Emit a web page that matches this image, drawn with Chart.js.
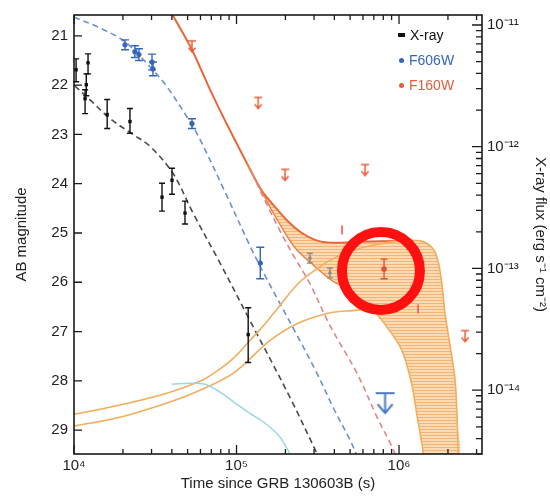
<!DOCTYPE html>
<html>
<head>
<meta charset="utf-8">
<script src="https://cdn.jsdelivr.net/npm/chart.js@4.4.1/dist/chart.umd.min.js"></script>
<style>
  body { margin: 0; background: #fff; }
  #wrap { position: relative; width: 550px; height: 496px; }
  .leg { position: absolute; left: 398px; font: 14px "Liberation Sans", Arial, sans-serif; white-space: nowrap; line-height: 16px; }
  .leg i { display: inline-block; margin-right: 5px; vertical-align: middle; position: relative; top: -1px; }
</style>
</head>
<body>
<div id="wrap">
  <canvas id="c" width="550" height="496"></canvas>
  <div class="leg" style="top:27px;color:#111"><i style="width:7px;height:4px;background:#111"></i>X-ray</div>
  <div class="leg" style="top:52px;color:#3566b8"><i style="width:5px;height:5px;border-radius:50%;background:#3566b8;margin-left:1px"></i>F606W</div>
  <div class="leg" style="top:77px;color:#e0603c"><i style="width:5px;height:5px;border-radius:50%;background:#e0603c;margin-left:1px"></i>F160W</div>
</div>
<script>
// axes
const xTickVals = [1e4, 1e5, 1e6];
const xTickLabels = ['10⁴', '10⁵', '10⁶'];
const magTicks = [21, 22, 23, 24, 25, 26, 27, 28, 29];
const fluxTickVals = [1e-11, 1e-12, 1e-13, 1e-14];
const fluxTickLabels = ['10⁻¹¹', '10⁻¹²', '10⁻¹³', '10⁻¹⁴'];

// X-ray data (right axis, erg s^-1 cm^-2)
const xrayTime = [1.03e4, 1.22e4, 1.19e4, 1.17e4, 1.60e4, 2.21e4, 3.48e4, 4.01e4, 4.82e4, 1.18e5];
const xrayFlux = [4.29e-12, 4.89e-12, 3.23e-12, 2.48e-12, 1.84e-12, 1.61e-12, 3.85e-13, 5.30e-13, 2.85e-13, 2.86e-14];
const xrayHi = [5.27e-12, 5.79e-12, 3.97e-12, 2.94e-12, 2.44e-12, 2.06e-12, 5.01e-13, 6.65e-13, 3.57e-13, 4.76e-14];
const xrayLo = [3.42e-12, 3.97e-12, 2.62e-12, 1.87e-12, 1.41e-12, 1.29e-12, 2.96e-13, 4.07e-13, 2.32e-13, 1.69e-14];
const xrayModelT = [1.01e4, 1.25e4, 1.67e4, 2.31e4, 2.94e4, 4.06e4, 5.40e4, 7.91e4, 1.21e5, 2.13e5, 3.18e5];
const xrayModelF = [3.17e-12, 2.44e-12, 1.70e-12, 1.26e-12, 1.005e-12, 6.05e-13, 2.85e-13, 1.11e-13, 3.73e-14, 8.75e-15, 2.88e-15];

// F606W (AB mag)
const f606T = [2.06e4, 2.37e4, 2.51e4, 3.02e4, 3.06e4, 5.32e4, 1.40e5];
const f606M = [21.18, 21.32, 21.38, 21.53, 21.67, 22.78, 25.61];
const f606Err = [0.10, 0.12, 0.12, 0.16, 0.14, 0.10, 0.32];
const f606LimT = [8.21e5];
const f606LimM = [28.25];
const f606ModelT = [1.0e4, 1.445e4, 2.06e4, 2.94e4, 3.73e4, 5.25e4, 5.96e4, 8.45e4, 1.21e5, 1.50e5, 1.85e5, 2.36e5, 3.13e5, 3.93e5, 4.99e5, 5.54e5];
const f606ModelM = [20.62, 20.84, 21.12, 21.63, 22.03, 22.78, 23.10, 24.15, 25.26, 25.87, 26.43, 27.08, 27.85, 28.54, 29.20, 29.53];

// F160W (AB mag)
const f160T = [8.09e5];
const f160M = [25.73];
const f160Err = [0.20];
const f160LimT = [5.32e4, 1.36e5, 1.99e5, 6.18e5, 2.55e6];
const f160LimM = [21.10, 22.25, 23.71, 23.61, 26.98];
const f160ModelT = [1.245e5, 1.50e5, 1.853e5, 2.29e5, 2.83e5, 3.76e5, 5.52e5, 7.33e5, 8.81e5, 9.6e5];
const f160ModelM = [23.79, 24.35, 24.96, 25.51, 26.03, 26.88, 27.85, 28.74, 29.26, 29.53];
const grayT = [2.83e5, 3.76e5];
const grayM = [25.51, 25.81];
const grayErr = [0.10, 0.10];

// afterglow + kilonova totals, kilonova range
const totalUpperT = [3.78e4, 5.32e4, 6.87e4, 8.87e4, 1.16e5, 1.435e5, 1.726e5, 2.07e5, 2.53e5, 3.18e5, 4.04e5, 5.75e5, 1.01e6];
const totalUpperM = [20.41, 21.28, 22.09, 22.84, 23.59, 24.15, 24.47, 24.76, 25.00, 25.16, 25.20, 25.18, 25.16];
const totalLowerT = [1.16e5, 1.50e5, 1.80e5, 2.29e5, 2.92e5, 3.87e5, 4.66e5, 5.75e5, 6.82e5];
const totalLowerM = [23.59, 24.29, 24.76, 25.30, 25.63, 25.97, 26.11, 26.37, 26.58];
const knUpperT = [1.0e4, 1.92e4, 3.73e4, 5.96e4, 7.38e4, 9.51e4, 1.21e5, 1.50e5, 1.80e5, 2.39e5, 3.18e5, 3.87e5, 5.14e5, 7.11e5, 1.01e6, 1.35e6, 1.60e6, 1.74e6, 1.84e6, 1.92e6, 2.06e6, 2.21e6, 2.28e6, 2.31e6];
const knUpperM = [28.68, 28.49, 28.25, 28.01, 27.83, 27.55, 27.18, 26.84, 26.52, 26.03, 25.71, 25.53, 25.36, 25.24, 25.16, 25.16, 25.30, 25.57, 26.07, 26.64, 27.28, 27.97, 28.80, 29.61];
const knLowerT = [1.0e4, 1.92e4, 3.73e4, 5.96e4, 9.51e4, 1.61e5, 2.36e5, 3.76e5, 4.99e5, 6.82e5, 8.55e5, 1.04e6, 1.19e6, 1.29e6, 1.39e6, 1.43e6];
const knLowerM = [28.92, 28.74, 28.45, 28.19, 27.85, 27.18, 26.84, 26.62, 26.58, 26.58, 26.94, 27.38, 28.03, 28.70, 29.32, 29.61];
const cyanT = [4.01e4, 5.18e4, 6.40e4, 7.91e4, 9.80e4, 1.21e5, 1.50e5, 1.85e5, 2.20e5];
const cyanM = [28.07, 28.05, 28.07, 28.23, 28.45, 28.66, 28.86, 29.14, 29.57];

// annotation marks
const ringT = [7.74e5];
const ringM = [25.77];
const markT = [4.46e5, 1.31e6];
const markM = [24.94, 26.54];

const pts = (t, v) => t.map((x, i) => ({x: x, y: v[i]}));

// band: total upper -> kilonova upper (late) -> kilonova lower (back) -> total lower (back)
const band = []
  .concat(pts(totalUpperT, totalUpperM).filter(p => p.x >= 1.16e5))
  .concat(pts(knUpperT, knUpperM).filter(p => p.x > 1.01e6))
  .concat(pts(knLowerT, knLowerM).filter(p => p.x > 6.82e5).reverse())
  .concat(pts(totalLowerT, totalLowerM).reverse());

const canvas = document.getElementById('c');
const ctx = canvas.getContext('2d');

// hatched fill of the kilonova band
const patCanvas = document.createElement('canvas');
patCanvas.width = 4; patCanvas.height = 3;
const pc = patCanvas.getContext('2d');
pc.fillStyle = '#fcdab2'; pc.fillRect(0, 0, 4, 3);
pc.fillStyle = '#f2b478'; pc.fillRect(0, 0, 4, 1);
const hatch = ctx.createPattern(patCanvas, 'repeat');

// upper limit glyph: bar at the value, stem and arrow head below
function limitGlyph(color, barW, stem, headW, lw) {
  const c = document.createElement('canvas');
  const w = Math.max(barW, headW) + 4, h = (stem + 4) * 2;
  c.width = w; c.height = h;
  const g = c.getContext('2d');
  g.strokeStyle = color; g.lineWidth = lw;
  const cx = w / 2, cy = h / 2;
  g.beginPath();
  g.moveTo(cx - barW / 2, cy); g.lineTo(cx + barW / 2, cy);
  g.moveTo(cx, cy); g.lineTo(cx, cy + stem);
  g.moveTo(cx - headW / 2, cy + stem - headW * 0.6);
  g.lineTo(cx, cy + stem);
  g.lineTo(cx + headW / 2, cy + stem - headW * 0.6);
  g.stroke();
  return c;
}

const font = {family: '"Liberation Sans", Arial, sans-serif', size: 15};
const txt = '#222';

const errorBars = {
  id: 'errorBars',
  afterDatasetsDraw(chart) {
    const c = chart.ctx;
    chart.data.datasets.forEach((ds, i) => {
      if (!ds.errLo) return;
      const meta = chart.getDatasetMeta(i);
      const ys = chart.scales[meta.yAxisID];
      const cap = ds.capWidth || 3;
      c.save();
      c.strokeStyle = ds.borderColor;
      c.lineWidth = 1.4;
      meta.data.forEach((pt, j) => {
        const y1 = ys.getPixelForValue(ds.errLo[j]);
        const y2 = ys.getPixelForValue(ds.errHi[j]);
        c.beginPath();
        c.moveTo(pt.x, y1); c.lineTo(pt.x, y2);
        c.moveTo(pt.x - cap, y1); c.lineTo(pt.x + cap, y1);
        c.moveTo(pt.x - cap, y2); c.lineTo(pt.x + cap, y2);
        c.stroke();
      });
      c.restore();
    });
  }
};

// frame with inward tick marks on all four sides
const frameTicks = {
  id: 'frameTicks',
  afterDraw(chart) {
    const c = chart.ctx;
    const {left, right, top, bottom} = chart.chartArea;
    const xs = chart.scales.x, ys = chart.scales.y, fs = chart.scales.y2;
    c.save();
    c.strokeStyle = '#1a1a1a';
    c.lineWidth = 1.6;
    c.strokeRect(left, top, right - left, bottom - top);
    c.lineWidth = 1.3;
    c.beginPath();
    for (let e = 4; e <= 6; e++) {
      for (let k = 1; k <= 9; k++) {
        const v = k * Math.pow(10, e);
        if (v > xs.max) break;
        const px = xs.getPixelForValue(v);
        const len = k === 1 ? 9 : 5;
        c.moveTo(px, bottom); c.lineTo(px, bottom - len);
        c.moveTo(px, top); c.lineTo(px, top + len);
      }
    }
    magTicks.forEach(m => {
      const py = ys.getPixelForValue(m);
      c.moveTo(left, py); c.lineTo(left + 8, py);
    });
    for (let e = -15; e <= -11; e++) {
      for (let k = 1; k <= 9; k++) {
        const v = k * Math.pow(10, e);
        if (v < fs.min || v > fs.max) continue;
        const py = fs.getPixelForValue(v);
        const len = k === 1 ? 10 : 6;
        c.moveTo(right, py); c.lineTo(right - len, py);
      }
    }
    c.stroke();
    c.restore();
  }
};

const lineDs = (label, t, v, color, opts) => Object.assign({
  label: label, data: pts(t, v), borderColor: color, borderWidth: 1.6,
  pointRadius: 0, tension: 0.35, fill: false, yAxisID: 'y', order: 5
}, opts || {});

const magErr = (m, e, sign) => m.map((x, i) => x + sign * e[i]);

new Chart(canvas, {
  type: 'line',
  data: {
    datasets: [
      {label: 'band', data: band, borderWidth: 0, borderColor: 'rgba(0,0,0,0)', backgroundColor: hatch,
       fill: 'shape', pointRadius: 0, tension: 0.3, yAxisID: 'y', order: 20},
      lineDs('cyan', cyanT, cyanM, '#9dd6e3', {borderWidth: 1.5}),
      lineDs('kn upper', knUpperT, knUpperM, '#f0ae5e', {borderWidth: 1.6}),
      lineDs('kn lower', knLowerT, knLowerM, '#f0ae5e', {borderWidth: 1.6}),
      lineDs('X-ray model', xrayModelT, xrayModelF, '#4a4a4a', {borderDash: [6, 4], yAxisID: 'y2'}),
      lineDs('F606W model', f606ModelT, f606ModelM, '#6d8fd3', {borderDash: [6, 4]}),
      lineDs('F160W model', f160ModelT, f160ModelM, '#e0848c', {borderDash: [6, 4]}),
      lineDs('total lower', totalLowerT, totalLowerM, '#e9834a', {borderWidth: 1.4}),
      lineDs('total upper', totalUpperT, totalUpperM, '#e8663a', {borderWidth: 2, tension: 0.25}),
      {label: 'X-ray', data: pts(xrayTime, xrayFlux), showLine: false, yAxisID: 'y2',
       pointStyle: 'rect', pointRadius: 2.4, backgroundColor: '#111', borderColor: '#111', borderWidth: 0,
       errLo: xrayLo, errHi: xrayHi, capWidth: 3, order: 2},
      {label: 'F606W', data: pts(f606T, f606M), showLine: false, yAxisID: 'y',
       pointRadius: 2.6, backgroundColor: '#3566b8', borderColor: '#3566b8', borderWidth: 0,
       errLo: magErr(f606M, f606Err, -1), errHi: magErr(f606M, f606Err, 1), capWidth: 4, order: 2},
      {label: 'F160W', data: pts(f160T, f160M), showLine: false, yAxisID: 'y',
       pointRadius: 2.8, backgroundColor: '#e0503a', borderColor: '#e0503a', borderWidth: 0,
       errLo: magErr(f160M, f160Err, -1), errHi: magErr(f160M, f160Err, 1), capWidth: 3.5, order: 2},
      {label: 'gray', data: pts(grayT, grayM), showLine: false, yAxisID: 'y',
       pointRadius: 1.8, backgroundColor: '#9a8878', borderColor: '#9a8878', borderWidth: 0,
       errLo: magErr(grayM, grayErr, -1), errHi: magErr(grayM, grayErr, 1), capWidth: 3, order: 2},
      {label: 'F160W limits', data: pts(f160LimT, f160LimM), showLine: false, yAxisID: 'y',
       pointStyle: limitGlyph('#e8603c', 8, 11, 7, 1.5), pointRadius: 6, order: 2},
      {label: 'F606W limit', data: pts(f606LimT, f606LimM), showLine: false, yAxisID: 'y',
       pointStyle: limitGlyph('#4a7cc4', 19, 20, 15, 2), pointRadius: 10, order: 2},
      {label: 'marks', data: pts(markT, markM), showLine: false, yAxisID: 'y',
       pointStyle: 'line', rotation: 90, pointRadius: 4.5, borderColor: '#ff4a4a', borderWidth: 1.5, order: 1},
      {label: 'ring', data: pts(ringT, ringM), showLine: false, yAxisID: 'y', clip: false,
       pointStyle: 'circle', pointRadius: 39, borderWidth: 10, borderColor: '#ff1111',
       backgroundColor: 'rgba(0,0,0,0)', order: 0}
    ]
  },
  options: {
    responsive: false,
    animation: false,
    events: [],
    layout: {autoPadding: false, padding: {top: 13, left: 0, right: 0, bottom: 0}},
    plugins: {legend: {display: false}, tooltip: {enabled: false}},
    scales: {
      x: {
        type: 'logarithmic', min: 1e4, max: 3.24e6,
        grid: {display: false, drawTicks: false}, border: {display: false},
        afterBuildTicks: s => { s.ticks = xTickVals.map(v => ({value: v})); },
        afterFit: s => { s.height = 42; },
        ticks: {callback: v => xTickLabels[xTickVals.indexOf(v)], autoSkip: false, maxRotation: 0,
                padding: 3, font: font, color: txt},
        title: {display: true, text: 'Time since GRB 130603B (s)', font: font, color: txt,
                padding: {top: 0, bottom: 3}}
      },
      y: {
        type: 'linear', position: 'left', reverse: true, min: 20.576, max: 29.485,
        grid: {display: false, drawTicks: false}, border: {display: false},
        afterBuildTicks: s => { s.ticks = magTicks.map(v => ({value: v})); },
        afterFit: s => { s.width = 74; },
        ticks: {callback: v => String(v), padding: 6, font: font, color: txt},
        title: {display: true, text: 'AB magnitude', font: font, color: txt, padding: {top: 13, bottom: 0}}
      },
      y2: {
        type: 'logarithmic', position: 'right', min: 2.99e-15, max: 1.208e-11,
        grid: {display: false, drawTicks: false}, border: {display: false},
        afterBuildTicks: s => { s.ticks = fluxTickVals.map(v => ({value: v})); },
        afterFit: s => { s.width = 68; },
        ticks: {callback: v => fluxTickLabels[fluxTickVals.indexOf(v)], padding: 5, font: font, color: txt},
        title: {display: true, text: 'X-ray flux (erg s⁻¹ cm⁻²)', font: font, color: txt, padding: {top: 1, bottom: 0}}
      }
    }
  },
  plugins: [errorBars, frameTicks]
});
</script>
</body>
</html>
